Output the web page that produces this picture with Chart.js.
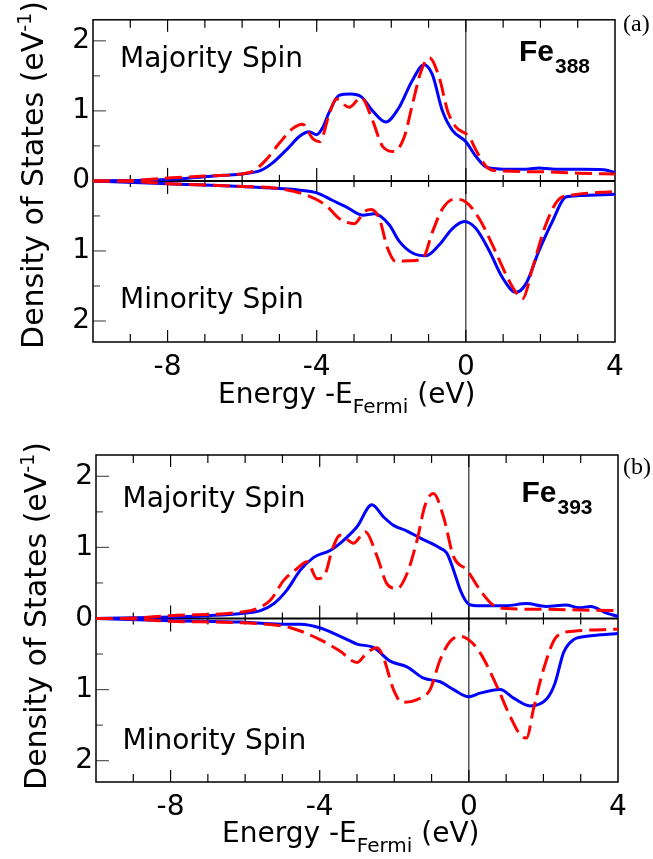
<!DOCTYPE html>
<html>
<head>
<meta charset="utf-8">
<script src="https://cdn.jsdelivr.net/npm/chart.js@4.4.0/dist/chart.umd.min.js"></script>
<style>
  html, body { margin: 0; padding: 0; background: #fff; }
  #wrap { position: relative; width: 653px; height: 859px; }
  canvas { position: absolute; left: 0; }
  #chartA { top: 0; }
  #chartB { top: 430px; }
</style>
</head>
<body>
<div id="wrap">
  <canvas id="chartA" width="653" height="430"></canvas>
  <canvas id="chartB" width="653" height="429"></canvas>
</div>
<script>
// tick values
const xTicks = [-8, -4, 0, 4];
const yTicks = [-2, -1, 0, 1, 2];

// (a) Fe388 - majority spin, solid blue
const fe388MajSolidE   = [-10, -9, -8, -7, -6.5, -6, -5.5, -5.2, -4.8, -4.45, -4.2, -4.0, -3.85, -3.65, -3.4, -3.1, -2.8, -2.5, -2.15, -1.8, -1.45, -1.12, -0.9, -0.63, -0.36, 0, 0.27, 0.54, 0.9, 1.3, 1.7, 1.95, 2.3, 3.0, 3.7, 4.0];
const fe388MajSolidDos = [0, 0.005, 0.02, 0.06, 0.08, 0.1, 0.15, 0.25, 0.45, 0.64, 0.7, 0.66, 0.75, 1.0, 1.22, 1.24, 1.2, 1.0, 0.84, 1.04, 1.42, 1.66, 1.52, 1.0, 0.72, 0.56, 0.35, 0.2, 0.17, 0.165, 0.17, 0.185, 0.17, 0.165, 0.16, 0.12];
// (a) Fe388 - majority spin, dashed red
const fe388MajDashE   = [-10, -9.3, -8, -7, -6, -5.7, -5.36, -5, -4.64, -4.38, -4.1, -3.92, -3.66, -3.48, -3.13, -2.81, -2.5, -2.23, -1.92, -1.65, -1.43, -1.2, -0.98, -0.71, -0.49, -0.27, 0.09, 0.27, 0.54, 0.75, 2, 3, 4];
const fe388MajDashDos = [0, 0, 0.04, 0.07, 0.1, 0.14, 0.3, 0.54, 0.75, 0.81, 0.6, 0.56, 0.96, 1.17, 1.05, 1.19, 0.86, 0.49, 0.42, 0.63, 1.1, 1.57, 1.76, 1.47, 1.0, 0.77, 0.63, 0.44, 0.21, 0.15, 0.13, 0.11, 0.1];
// (a) Fe388 - minority spin, solid blue
const fe388MinSolidE   = [-10, -8, -7, -6, -5, -4.5, -4, -3.57, -3.21, -2.77, -2.45, -2.05, -1.79, -1.43, -1.07, -0.71, -0.36, -0.04, 0.27, 0.63, 0.98, 1.34, 1.61, 1.96, 2.32, 2.68, 3.04, 4];
const fe388MinSolidDos = [0, 0.04, 0.06, 0.08, 0.11, 0.13, 0.17, 0.28, 0.37, 0.49, 0.47, 0.63, 0.86, 1.03, 1.07, 0.91, 0.68, 0.58, 0.68, 1.0, 1.38, 1.59, 1.47, 1.0, 0.58, 0.23, 0.21, 0.19];
// (a) Fe388 - minority spin, dashed red
const fe388MinDashE   = [-10, -9.3, -8, -6, -5, -4.29, -3.75, -3.39, -2.99, -2.72, -2.54, -2.32, -2.1, -1.88, -1.52, -1.16, -0.89, -0.63, -0.31, 0, 0.36, 0.71, 1.07, 1.34, 1.52, 1.79, 2.14, 2.5, 2.86, 4];
const fe388MinDashDos = [0, 0, 0.04, 0.08, 0.11, 0.2, 0.35, 0.54, 0.61, 0.44, 0.41, 0.54, 0.96, 1.15, 1.14, 1.11, 0.72, 0.4, 0.26, 0.3, 0.54, 0.91, 1.33, 1.59, 1.68, 1.24, 0.63, 0.26, 0.2, 0.15];

// (b) Fe393 - majority spin, solid blue
const fe393MajSolidE   = [-10, -8, -7, -6.1, -5.59, -5.23, -4.88, -4.52, -4.16, -3.71, -3.36, -3.0, -2.6, -2.29, -2.02, -1.66, -1.3, -0.77, -0.59, -0.41, -0.23, -0.1, 0, 0.3, 0.65, 1.0, 1.54, 2.07, 2.6, 2.96, 3.27, 3.67, 4];
const fe393MajSolidDos = [0, 0.02, 0.04, 0.07, 0.11, 0.21, 0.4, 0.68, 0.86, 0.96, 1.1, 1.29, 1.6, 1.43, 1.31, 1.23, 1.13, 0.99, 0.92, 0.68, 0.4, 0.26, 0.2, 0.18, 0.18, 0.18, 0.21, 0.17, 0.19, 0.15, 0.17, 0.08, 0.03];
// (b) Fe393 - majority spin, dashed red
const fe393MajDashE   = [-10, -9.3, -8, -6.1, -5.68, -5.32, -4.96, -4.61, -4.34, -4.07, -3.85, -3.67, -3.45, -3.09, -2.78, -2.46, -2.2, -1.93, -1.66, -1.39, -1.17, -0.95, -0.68, -0.41, -0.05, 0.3, 0.65, 1, 2, 3, 4];
const fe393MajDashDos = [0, 0, 0.04, 0.09, 0.14, 0.26, 0.54, 0.7, 0.8, 0.56, 0.63, 0.96, 1.17, 1.06, 1.22, 0.87, 0.49, 0.42, 0.63, 1.1, 1.6, 1.76, 1.43, 0.87, 0.68, 0.4, 0.19, 0.14, 0.13, 0.12, 0.11];
// (b) Fe393 - minority spin, solid blue
const fe393MinSolidE   = [-10, -8, -6.1, -5.05, -4.52, -4, -3.45, -3, -2.55, -2.11, -1.66, -1.21, -0.77, -0.41, 0, 0.3, 0.84, 1.2, 1.64, 2.09, 2.31, 2.54, 2.8, 3.16, 3.52, 4];
const fe393MinSolidDos = [0, 0.03, 0.05, 0.08, 0.08, 0.13, 0.25, 0.36, 0.41, 0.6, 0.68, 0.84, 0.89, 1.0, 1.1, 1.05, 1.0, 1.12, 1.23, 1.13, 0.91, 0.48, 0.3, 0.25, 0.23, 0.21];
// (b) Fe393 - minority spin, dashed red
const fe393MinDashE   = [-10, -9.3, -8, -6.1, -4.79, -3.98, -3.45, -3, -2.73, -2.46, -2.29, -2.02, -1.79, -1.39, -1.04, -0.77, -0.5, -0.23, 0, 0.3, 0.75, 1.11, 1.42, 1.55, 1.73, 2, 2.36, 2.8, 4];
const fe393MinDashDos = [0, 0, 0.04, 0.06, 0.13, 0.3, 0.46, 0.62, 0.48, 0.41, 0.55, 1.0, 1.18, 1.14, 1.0, 0.58, 0.32, 0.25, 0.3, 0.48, 0.95, 1.38, 1.66, 1.68, 1.28, 0.72, 0.25, 0.18, 0.15];

const SANS = '"DejaVu Sans", sans-serif';
const BLUE = '#0000ff';
const RED = '#ff0000';

function pts(e, dos, sign) {
    return e.map((x, i) => ({ x: x, y: sign * dos[i] }));
}

// axes frame, zero line, Fermi level and inward ticks
const framePlugin = {
    id: 'frame',
    beforeDatasetsDraw(chart) {
        const { ctx, chartArea: a, scales: { x, y } } = chart;
        const y0 = y.getPixelForValue(0);
        const xf = x.getPixelForValue(0);
        const line = (x1, y1, x2, y2) => { ctx.beginPath(); ctx.moveTo(x1, y1); ctx.lineTo(x2, y2); ctx.stroke(); };
        ctx.save();
        ctx.strokeStyle = '#000';
        ctx.lineWidth = 1.2;
        for (let e = -9; e <= 3; e++) {
            const px = x.getPixelForValue(e);
            const major = e % 4 === 0;
            const L = major ? 12 : 8;
            const Z = major ? 13 : 6;
            line(px, a.top, px, a.top + L);
            line(px, a.bottom, px, a.bottom - L);
            line(px, y0 - Z, px, y0 + Z);
        }
        ctx.strokeStyle = '#555';
        for (let v = -2; v <= 2; v += 0.5) {
            if (v === 0) continue;
            const py = y.getPixelForValue(v);
            line(a.left, py, a.left + (Number.isInteger(v) ? 13 : 7), py);
        }
        ctx.strokeStyle = '#000';
        ctx.lineWidth = 2;
        line(a.left, y0, a.right, y0);
        ctx.lineWidth = 1;
        line(xf, a.top, xf, a.bottom);
        ctx.lineWidth = 1.5;
        ctx.strokeRect(a.left, a.top, a.right - a.left, a.bottom - a.top);
        ctx.restore();
    }
};

// titles and in-plot labels (with sub/superscripts)
const textPlugin = {
    id: 'panelText',
    afterDraw(chart, args, o) {
        const ctx = chart.ctx;
        ctx.save();
        ctx.fillStyle = '#000';
        ctx.textBaseline = 'alphabetic';
        ctx.textAlign = 'left';

        ctx.font = '28px ' + SANS;
        ctx.fillText('Majority Spin', o.maj[0], o.maj[1]);
        ctx.fillText('Minority Spin', o.min[0], o.min[1]);

        // x title: Energy -E_Fermi (eV)
        let x = o.xTitle[0];
        const yb = o.xTitle[1];
        ctx.font = '28px ' + SANS;
        ctx.fillText('Energy -E', x, yb);
        x += ctx.measureText('Energy -E').width;
        ctx.font = '20px ' + SANS;
        ctx.fillText('Fermi', x, yb + 10);
        x += ctx.measureText('Fermi').width;
        ctx.font = '28px ' + SANS;
        ctx.fillText(' (eV)', x, yb);

        // y title, rotated: Density of States (eV^-1)
        ctx.save();
        ctx.translate(o.yTitle[0], o.yTitle[1]);
        ctx.rotate(-Math.PI / 2);
        ctx.font = '30px ' + SANS;
        const w1 = ctx.measureText('Density of States (eV').width;
        const w3 = ctx.measureText(')').width;
        ctx.font = '19px ' + SANS;
        const w2 = ctx.measureText('-1').width;
        let s = -(w1 + w2 + w3) / 2;
        ctx.font = '30px ' + SANS;
        ctx.fillText('Density of States (eV', s, 0);
        ctx.font = '19px ' + SANS;
        ctx.fillText('-1', s + w1, -12);
        ctx.font = '30px ' + SANS;
        ctx.fillText(')', s + w1 + w2, 0);
        ctx.restore();

        // Fe_N label
        ctx.font = 'bold 30px "Liberation Sans", Arial, sans-serif';
        ctx.fillText('Fe', o.fe[0], o.fe[1]);
        const wf = ctx.measureText('Fe').width;
        ctx.font = 'bold 21px "Liberation Sans", Arial, sans-serif';
        ctx.fillText(o.feSub, o.fe[0] + wf + 1, o.fe[1] + 12);

        // panel letter
        ctx.font = '24px "Liberation Serif", "Times New Roman", serif';
        ctx.fillText(o.letter, o.letterPos[0], o.letterPos[1]);
        ctx.restore();
    }
};

function makePanel(id, s, lay, txt) {
    return new Chart(document.getElementById(id), {
        type: 'line',
        data: {
            datasets: [
                { data: pts(s.majDashE, s.majDashDos, 1), borderColor: RED, borderDash: [17, 7], order: 0 },
                { data: pts(s.minDashE, s.minDashDos, -1), borderColor: RED, borderDash: [17, 7], order: 0 },
                { data: pts(s.majSolidE, s.majSolidDos, 1), borderColor: BLUE, order: 1 },
                { data: pts(s.minSolidE, s.minSolidDos, -1), borderColor: BLUE, order: 1 }
            ]
        },
        options: {
            responsive: false,
            animation: false,
            events: [],
            layout: { autoPadding: false, padding: { top: lay.top, right: lay.right, left: 0, bottom: 0 } },
            elements: {
                line: { borderWidth: 3, fill: false, cubicInterpolationMode: 'monotone' },
                point: { radius: 0 }
            },
            plugins: {
                legend: { display: false },
                tooltip: { enabled: false },
                panelText: txt
            },
            scales: {
                x: {
                    type: 'linear', min: -10, max: 4,
                    grid: { display: false, drawTicks: false },
                    border: { display: false },
                    afterBuildTicks: sc => { sc.ticks = xTicks.map(v => ({ value: v })); },
                    afterFit: sc => { sc.height = lay.xH; },
                    ticks: { autoSkip: false, maxRotation: 0, padding: 9, color: '#000',
                             font: { family: SANS, size: 28 }, callback: v => String(v) }
                },
                y: {
                    min: -2.3, max: 2.3,
                    grid: { display: false, drawTicks: false },
                    border: { display: false },
                    afterBuildTicks: sc => { sc.ticks = yTicks.map(v => ({ value: v })); },
                    afterFit: sc => { sc.width = lay.left; },
                    ticks: { autoSkip: false, padding: 3, color: '#000',
                             font: { family: SANS, size: 28 }, callback: v => String(Math.abs(v)) }
                }
            }
        },
        plugins: [framePlugin, textPlugin]
    });
}

makePanel('chartA', {
    majSolidE: fe388MajSolidE, majSolidDos: fe388MajSolidDos,
    majDashE: fe388MajDashE, majDashDos: fe388MajDashDos,
    minSolidE: fe388MinSolidE, minSolidDos: fe388MinSolidDos,
    minDashE: fe388MinDashE, minDashDos: fe388MinDashDos
}, { top: 15, right: 38, left: 93, xH: 88 }, {
    maj: [120, 66.5], min: [120, 308], xTitle: [218, 403], yTitle: [43, 175],
    fe: [519, 61], feSub: '388', letter: '(a)', letterPos: [623, 31]
});

makePanel('chartB', {
    majSolidE: fe393MajSolidE, majSolidDos: fe393MajSolidDos,
    majDashE: fe393MajDashE, majDashDos: fe393MajDashDos,
    minSolidE: fe393MinSolidE, minSolidDos: fe393MinSolidDos,
    minDashE: fe393MinDashE, minDashDos: fe393MinDashDos
}, { top: 25, right: 35, left: 96, xH: 77 }, {
    maj: [122.5, 77], min: [122.5, 319], xTitle: [222, 412], yTitle: [46, 186],
    fe: [521.5, 71.5], feSub: '393', letter: '(b)', letterPos: [623, 44]
});
</script>
</body>
</html>
